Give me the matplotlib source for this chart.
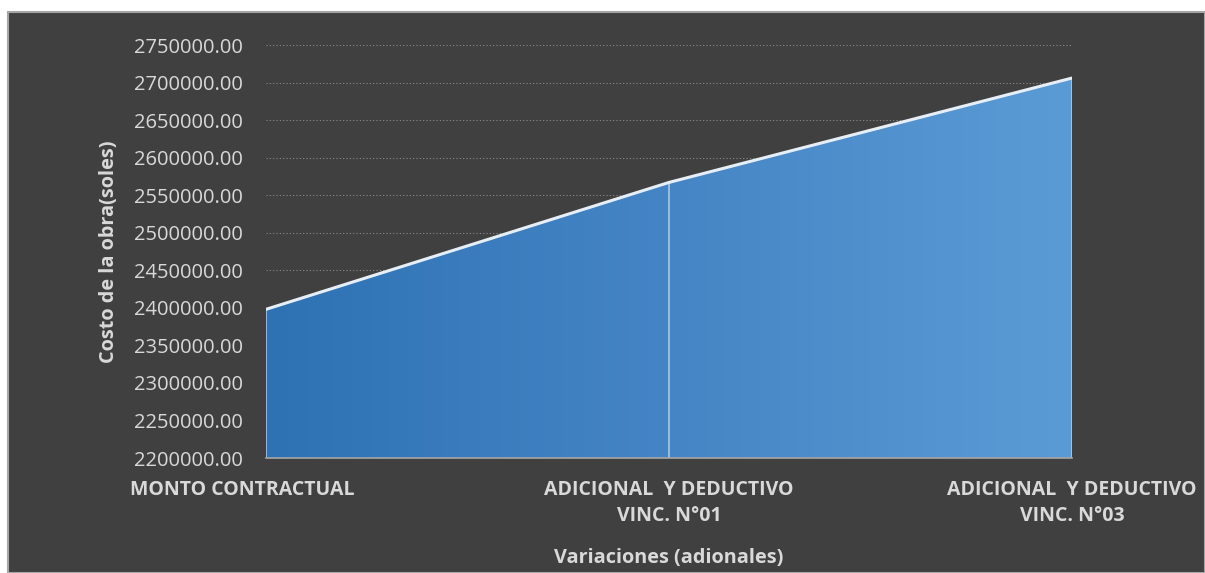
import numpy as np
import matplotlib.pyplot as plt
from matplotlib.patches import Rectangle
from matplotlib.colors import LinearSegmentedColormap
from matplotlib.transforms import ScaledTranslation

plt.rcParams["font.family"] = ["Open Sans", "DejaVu Sans"]

categories = ["MONTO CONTRACTUAL",
              "ADICIONAL  Y DEDUCTIVO\nVINC. N°01",
              "ADICIONAL  Y DEDUCTIVO\nVINC. N°03"]
costs = [2398000, 2567000, 2706000]
yticks = np.arange(2200000, 2750001, 50000)

BG = "#404040"
TXT = "#D9D9D9"

fig = plt.figure(figsize=(12.05, 5.73), dpi=100, facecolor="white")
fig.patches.append(Rectangle((8 / 1205, 0), 1 - 8 / 1205, 1 - 12 / 573,
                             transform=fig.transFigure, facecolor=BG,
                             edgecolor="#A6A6A6", lw=1.5, zorder=-1))

ax = fig.add_axes([266 / 1205, 1 - 458 / 573, (1072 - 266) / 1205, (458 - 45) / 573])
ax.set_facecolor("none")
x = np.arange(len(costs))

# grid
for v in yticks[1:]:
    ax.axhline(v, color="#8C8C8C", lw=0.8, ls=(0, (1, 2)), zorder=1)

# gradient-filled area
poly = ax.fill_between(x, costs, yticks[0], color="none", lw=0, zorder=2)
cmap = LinearSegmentedColormap.from_list("g", ["#2E72B4", "#4585C5", "#5B9BD5"])
grad = np.linspace(0, 1, 256).reshape(1, -1)
im = ax.imshow(grad, cmap=cmap, aspect="auto", zorder=2,
               extent=[0, len(costs) - 1, yticks[0], max(costs)])
im.set_clip_path(poly.get_paths()[0], transform=ax.transData)
ax.set_xlim(0, len(costs) - 1)
ax.set_ylim(yticks[0], yticks[-1])

ax.plot(x, costs, color="#E6EEF7", lw=2.2, zorder=4, solid_capstyle="round")
for xi, c in zip(x, costs):
    ax.plot([xi, xi], [yticks[0], c], color="#B4CDE8", lw=1.1, zorder=3)

for s in ["top", "right", "left"]:
    ax.spines[s].set_visible(False)
ax.spines["bottom"].set_color("#A6A6A6")
ax.spines["bottom"].set_linewidth(1.2)
ax.spines["bottom"].set_zorder(5)

ax.set_yticks(yticks)
ax.set_yticklabels([f"{v:.2f}" for v in yticks], color=TXT, fontsize=14.5)
ax.set_xticks(x)
ax.set_xticklabels(categories, color=TXT, fontsize=14, fontweight="bold",
                   linespacing=1.45)
ax.tick_params(axis="both", length=0)
ax.tick_params(axis="y", pad=16.5)
ax.tick_params(axis="x", pad=15.5)
lbl = ax.get_xticklabels()[0]
lbl.set_transform(lbl.get_transform() + ScaledTranslation(-0.24, 0, fig.dpi_scale_trans))

ax.set_ylabel("Costo de la obra(soles)", color=TXT, fontsize=14.3,
              fontweight="bold", labelpad=11)
ax.set_xlabel("Variaciones (adionales)", color=TXT, fontsize=14.3,
              fontweight="bold", labelpad=16)

fig.savefig("out.png", dpi=100, facecolor="white")
